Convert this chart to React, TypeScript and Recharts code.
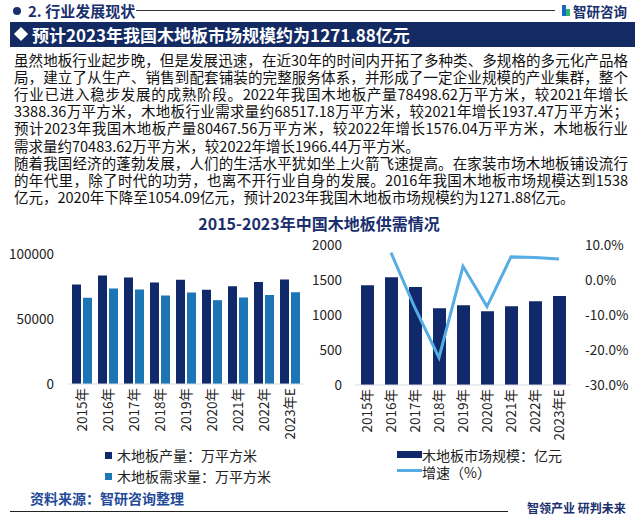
import React from "react";
import {
  BarChart,
  Bar,
  ComposedChart,
  Line,
  XAxis,
  YAxis,
} from "recharts";

// values (2021-2023 from the paragraph text)
const years = ["2015年", "2016年", "2017年", "2018年", "2019年", "2020年", "2021年", "2022年", "2023年E"];
const floorOutput = [76500, 83500, 82000, 78000, 80200, 72500, 75110.26, 78498.62, 80467.56];
const floorDemand = [66400, 73400, 72700, 68000, 70300, 64500, 66579.71, 68517.18, 70483.62];
const marketSize = [1425, 1538, 1400, 1095, 1140, 1054.09, 1125, 1197, 1271.88];
const growthRate = [null, 7.8, -8.0, -22.2, 3.9, -7.6, 6.6, 6.4, 6.0];

const leftTicks = [0, 50000, 100000];
const sizeTicks = [0, 500, 1000, 1500, 2000];
const rateTicks = [-30, -20, -10, 0, 10];

const paragraph = [
  "虽然地板行业起步晚，但是发展迅速，在近30年的时间内开拓了多种类、多规格的多元化产品格",
  "局，建立了从生产、销售到配套铺装的完整服务体系，并形成了一定企业规模的产业集群，整个",
  "行业已进入稳步发展的成熟阶段。2022年我国木地板产量78498.62万平方米，较2021年增长",
  "3388.36万平方米，木地板行业需求量约68517.18万平方米，较2021年增长1937.47万平方米；",
  "预计2023年我国木地板产量80467.56万平方米，较2022年增长1576.04万平方米，木地板行业",
  "需求量约70483.62万平方米，较2022年增长1966.44万平方米。",
  "随着我国经济的蓬勃发展，人们的生活水平犹如坐上火箭飞速提高。在家装市场木地板铺设流行",
  "的年代里，除了时代的功劳，也离不开行业自身的发展。2016年我国木地板市场规模达到1538",
  "亿元，2020年下降至1054.09亿元，预计2023年我国木地板市场规模约为1271.88亿元。",
];
// lines that end a paragraph are not stretched
const shortLines = [5, 8];

const supplyRows = years.map((year, i) => ({
  year,
  output: floorOutput[i],
  demand: floorDemand[i],
}));
const marketRows = years.map((year, i) => ({
  year,
  size: marketSize[i],
  growth: growthRate[i],
}));

const FONT = '"Noto Sans CJK SC", "Noto Sans", sans-serif';
const NAVY = "#10296b";
const STEEL = "#1c76b5";
const SKY = "#55ade4";
const INK = "#1a2f6e";
const tickStyle = { fontSize: 13.5, fill: "#222", fontFamily: FONT };

function YearTick(props: any) {
  const { x, y, payload } = props;
  const ty = y - 4;
  return (
    <text
      x={x}
      y={ty}
      transform={`rotate(-90, ${x}, ${ty})`}
      textAnchor="end"
      dy="0.36em"
      fontSize={13.5}
      fill="#222"
      fontFamily={FONT}
    >
      {payload.value}
    </text>
  );
}

export default function App() {
  return (
    <div
      style={{
        position: "absolute",
        left: 0,
        top: 0,
        width: 635,
        height: 524,
        background: "#fff",
        overflow: "hidden",
        fontFamily: FONT,
      }}
    >
      {/* section header */}
      <div style={{ position: "absolute", left: 13, top: 7, width: 8, height: 8, borderRadius: 4, background: INK }} />
      <div
        style={{
          position: "absolute",
          left: 28,
          top: 0,
          lineHeight: "22px",
          fontSize: 15,
          fontWeight: 700,
          color: INK,
        }}
      >
        2. 行业发展现状
      </div>
      <div style={{ position: "absolute", left: 136, top: 10, width: 419, height: 1, background: "#333" }} />
      <div style={{ position: "absolute", left: 562, top: 5, width: 4, height: 11, background: "#1d66c2" }} />
      <div style={{ position: "absolute", left: 566, top: 9, width: 4, height: 7, background: "#2bb673" }} />
      <div
        style={{
          position: "absolute",
          left: 573,
          top: 0,
          lineHeight: "22px",
          fontSize: 13.5,
          fontWeight: 700,
          color: INK,
        }}
      >
        智研咨询
      </div>

      {/* title banner */}
      <div style={{ position: "absolute", left: 10, top: 22, width: 625, height: 25, background: "#132a62" }} />
      <div
        style={{
          position: "absolute",
          left: 16,
          top: 29,
          width: 10,
          height: 10,
          background: "#fff",
          transform: "rotate(45deg)",
        }}
      />
      <div
        style={{
          position: "absolute",
          left: 32,
          top: 22,
          lineHeight: "25px",
          fontSize: 17,
          fontWeight: 700,
          color: "#fff",
          whiteSpace: "nowrap",
        }}
      >
        预计2023年我国木地板市场规模约为1271.88亿元
      </div>

      {/* paragraph */}
      {paragraph.map((line, i) => (
        <div
          key={i}
          style={{
            position: "absolute",
            left: 14,
            top: 51 + i * 17.1,
            width: 614,
            lineHeight: "17px",
            fontSize: 14.5,
            color: "#111",
            whiteSpace: "nowrap",
            textAlign: "left",
            textAlignLast: shortLines.includes(i) ? "left" : "justify",
          }}
        >
          {line}
        </div>
      ))}

      {/* chart title */}
      <div
        style={{
          position: "absolute",
          left: 0,
          width: 638,
          top: 212,
          textAlign: "center",
          lineHeight: "22px",
          fontSize: 16,
          fontWeight: 700,
          color: INK,
        }}
      >
        2015-2023年中国木地板供需情况
      </div>

      {/* left chart: output and demand */}
      <div style={{ position: "absolute", left: 0, top: 230 }}>
        <BarChart
          width={320}
          height={230}
          data={supplyRows}
          margin={{ top: 24, right: 17, left: 0, bottom: 0 }}
          barSize={9}
          barGap={2}
        >
          <YAxis
            width={69}
            domain={[0, 100000]}
            ticks={leftTicks}
            axisLine={false}
            tickLine={false}
            tickMargin={9}
            tick={tickStyle}
          />
          <XAxis
            dataKey="year"
            height={76}
            interval={0}
            tickLine={false}
            axisLine={{ stroke: "#d5d9e0" }}
            tick={<YearTick />}
          />
          <Bar dataKey="output" fill={NAVY} isAnimationActive={false} />
          <Bar dataKey="demand" fill={STEEL} isAnimationActive={false} />
        </BarChart>
      </div>

      {/* right chart: market size and growth */}
      <div style={{ position: "absolute", left: 300, top: 230 }}>
        <ComposedChart
          width={335}
          height={230}
          data={marketRows}
          margin={{ top: 15, right: 0, left: 0, bottom: 0 }}
          barSize={13}
        >
          <YAxis
            yAxisId="size"
            width={55}
            domain={[0, 2000]}
            ticks={sizeTicks}
            axisLine={false}
            tickLine={false}
            tickMargin={7}
            tick={tickStyle}
          />
          <YAxis
            yAxisId="rate"
            orientation="right"
            width={64}
            domain={[-30, 10]}
            ticks={rateTicks}
            axisLine={false}
            tickLine={false}
            tickMargin={8}
            tick={tickStyle}
            tickFormatter={(v: number) => `${v.toFixed(1)}%`}
          />
          <XAxis
            dataKey="year"
            height={75}
            interval={0}
            tickLine={false}
            axisLine={{ stroke: "#d5d9e0" }}
            tick={<YearTick />}
          />
          <Bar yAxisId="size" dataKey="size" fill={NAVY} isAnimationActive={false} />
          <Line
            yAxisId="rate"
            dataKey="growth"
            stroke={SKY}
            strokeWidth={3}
            dot={false}
            type="linear"
            isAnimationActive={false}
          />
        </ComposedChart>
      </div>

      {/* left legend */}
      <div style={{ position: "absolute", left: 105, top: 452, width: 7, height: 7, background: NAVY }} />
      <div style={{ position: "absolute", left: 117, top: 445, lineHeight: "20px", fontSize: 14, color: "#222" }}>
        木地板产量：万平方米
      </div>
      <div style={{ position: "absolute", left: 105, top: 473, width: 7, height: 7, background: STEEL }} />
      <div style={{ position: "absolute", left: 117, top: 466, lineHeight: "20px", fontSize: 14, color: "#222" }}>
        木地板需求量：万平方米
      </div>

      {/* right legend */}
      <div style={{ position: "absolute", left: 397, top: 451, width: 25, height: 7, background: NAVY }} />
      <div style={{ position: "absolute", left: 422, top: 445, lineHeight: "20px", fontSize: 14, color: "#222" }}>
        木地板市场规模：亿元
      </div>
      <div style={{ position: "absolute", left: 397, top: 469, width: 25, height: 3, background: SKY }} />
      <div style={{ position: "absolute", left: 422, top: 462, lineHeight: "20px", fontSize: 14, color: "#222" }}>
        增速（%）
      </div>

      {/* source and footer */}
      <div
        style={{
          position: "absolute",
          left: 30,
          top: 488,
          lineHeight: "20px",
          fontSize: 14,
          fontWeight: 700,
          color: "#1f4a9a",
        }}
      >
        资料来源：智研咨询整理
      </div>
      <div style={{ position: "absolute", left: 10, top: 511, width: 498, height: 1, background: "#222" }} />
      <div
        style={{
          position: "absolute",
          left: 527,
          top: 499,
          lineHeight: "18px",
          fontSize: 12,
          fontWeight: 700,
          color: INK,
          whiteSpace: "nowrap",
        }}
      >
        智领产业 研判未来
      </div>
    </div>
  );
}
